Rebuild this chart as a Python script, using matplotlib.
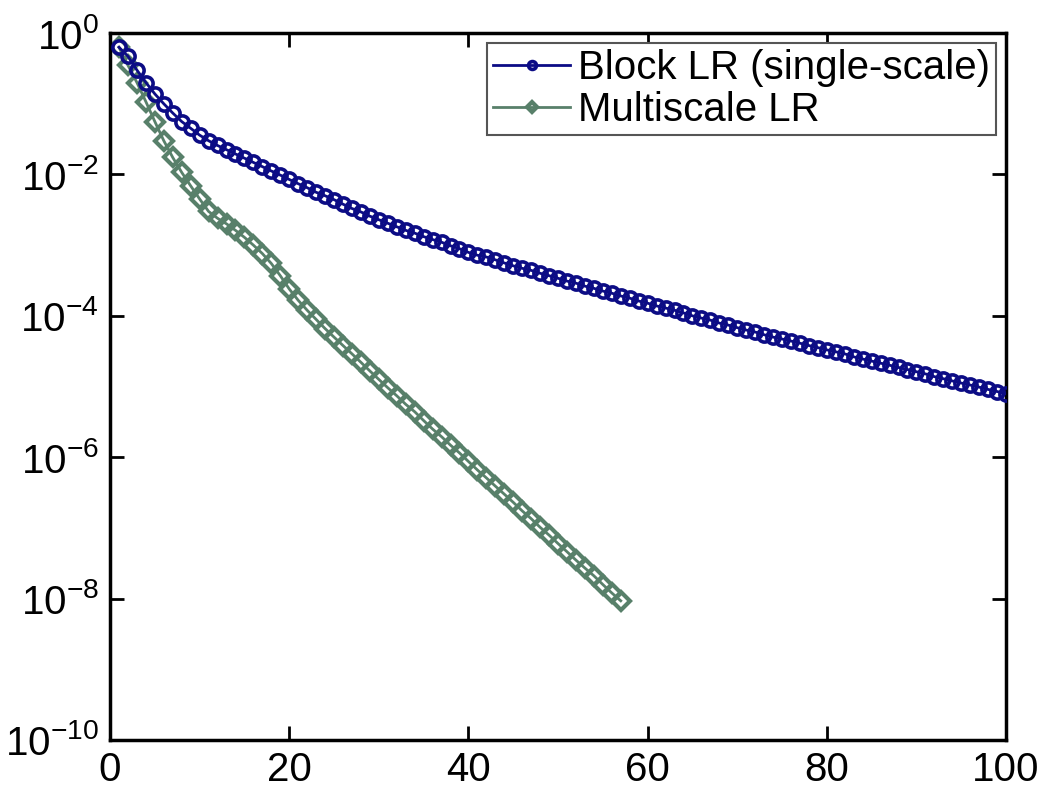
import matplotlib
matplotlib.use("Agg")
import matplotlib.pyplot as plt
import numpy as np
from matplotlib.ticker import FixedLocator, FuncFormatter, NullLocator

plt.rcParams["font.family"] = ["Liberation Sans", "DejaVu Sans"]
plt.rcParams["mathtext.fontset"] = "custom"
plt.rcParams["mathtext.rm"] = "Liberation Sans"
plt.rcParams["mathtext.it"] = "Liberation Sans"
plt.rcParams["mathtext.default"] = "regular"

# residual per iteration
block_iter = list(range(1, 101))
block_lr = [
    6.3e-1, 4.7e-1, 3.0e-1, 2.0e-1, 1.38e-1, 1.0e-1, 7.4e-2, 5.6e-2, 4.5e-2, 3.6e-2,
    3.0e-2, 2.57e-2, 2.24e-2, 1.95e-2, 1.70e-2, 1.48e-2, 1.29e-2, 1.12e-2, 9.8e-3, 8.5e-3,
    7.4e-3, 6.5e-3, 5.6e-3, 5.0e-3, 4.4e-3, 3.8e-3, 3.3e-3, 2.95e-3, 2.57e-3, 2.29e-3,
    2.04e-3, 1.82e-3, 1.62e-3, 1.48e-3, 1.32e-3, 1.20e-3, 1.10e-3, 9.8e-4, 8.9e-4, 7.9e-4,
    7.2e-4, 6.8e-4, 6.2e-4, 5.6e-4, 5.1e-4, 4.7e-4, 4.4e-4, 4.0e-4, 3.7e-4, 3.4e-4,
    3.1e-4, 2.9e-4, 2.63e-4, 2.45e-4, 2.24e-4, 2.09e-4, 1.91e-4, 1.78e-4, 1.62e-4, 1.51e-4,
    1.38e-4, 1.29e-4, 1.20e-4, 1.10e-4, 1.0e-4, 9.3e-5, 8.7e-5, 7.9e-5, 7.4e-5, 6.8e-5,
    6.3e-5, 5.9e-5, 5.4e-5, 5.0e-5, 4.7e-5, 4.4e-5, 4.1e-5, 3.8e-5, 3.55e-5, 3.3e-5,
    3.1e-5, 2.9e-5, 2.63e-5, 2.45e-5, 2.29e-5, 2.14e-5, 2.0e-5, 1.86e-5, 1.74e-5, 1.62e-5,
    1.51e-5, 1.38e-5, 1.29e-5, 1.20e-5, 1.12e-5, 1.05e-5, 9.8e-6, 9.1e-6, 8.5e-6, 7.9e-6,
]

multi_iter = list(range(1, 58))
multi_lr = [
    6.3e-1, 3.5e-1, 2.0e-1, 1.07e-1, 5.6e-2, 3.0e-2, 1.74e-2, 1.07e-2, 6.9e-3, 4.5e-3,
    3.0e-3, 2.4e-3, 2.0e-3, 1.62e-3, 1.29e-3, 1.0e-3, 7.6e-4, 5.5e-4, 3.7e-4, 2.4e-4,
    1.66e-4, 1.20e-4, 8.9e-5, 6.6e-5, 5.0e-5, 3.8e-5, 2.9e-5, 2.2e-5, 1.66e-5, 1.26e-5,
    9.6e-6, 7.4e-6, 5.6e-6, 4.4e-6, 3.3e-6, 2.5e-6, 1.95e-6, 1.48e-6, 1.15e-6, 8.7e-7,
    6.6e-7, 5.1e-7, 3.9e-7, 3.0e-7, 2.3e-7, 1.74e-7, 1.35e-7, 1.02e-7, 7.9e-8, 6.0e-8,
    4.6e-8, 3.5e-8, 2.7e-8, 2.1e-8, 1.58e-8, 1.20e-8, 9.3e-9,
]

x_ticks = [0, 20, 40, 60, 80, 100]
y_ticks = [1e-10, 1e-8, 1e-6, 1e-4, 1e-2, 1e0]

fig = plt.figure(figsize=(10.41, 7.88), dpi=100)
ax = fig.add_axes([0.1057, 0.061, 0.8607, 0.897])

ax.plot(multi_iter, multi_lr, color="#58806a", marker="D", markersize=9,
        markerfacecolor="none", markeredgewidth=3, linewidth=2,
        label="Multiscale LR", zorder=2)
ax.plot(block_iter, block_lr, color="#0c0c85", marker="o", markersize=9.5,
        markerfacecolor="none", markeredgewidth=2.6, linewidth=2,
        label="Block LR (single-scale)", zorder=3)

ax.set_yscale("log")
ax.set_xlim(0, 100)
ax.set_ylim(1e-10, 1e0)
ax.xaxis.set_major_locator(FixedLocator(x_ticks))
ax.yaxis.set_major_locator(FixedLocator(y_ticks))
ax.yaxis.set_minor_locator(NullLocator())
ax.yaxis.set_major_formatter(
    FuncFormatter(lambda v, p: r"$10^{%d}$" % int(round(np.log10(v)))))

ax.tick_params(which="both", direction="in", top=True, right=True,
               length=10, width=2, labelsize=29, pad=8)
for s in ax.spines.values():
    s.set_linewidth(2.5)

handles, labels = ax.get_legend_handles_labels()
leg = ax.legend(handles[::-1], labels[::-1], loc="upper right", fontsize=29,
                fancybox=False, framealpha=1, edgecolor="#555555",
                handlelength=1.9, handletextpad=0.2, borderpad=0.15,
                labelspacing=0.1, borderaxespad=0.25, markerscale=0.6)
leg.get_frame().set_linewidth(1.5)

fig.savefig("out.png", dpi=100)
